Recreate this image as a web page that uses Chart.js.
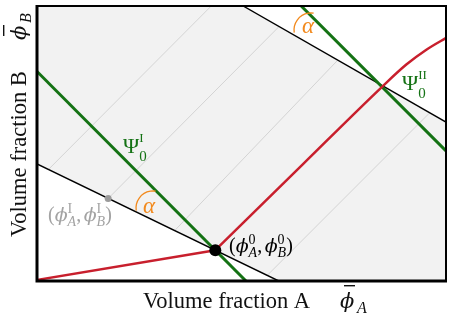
<!DOCTYPE html>
<html>
<head>
<meta charset="utf-8">
<script src="https://cdn.jsdelivr.net/npm/chart.js@4.4.0/dist/chart.umd.min.js"></script>
<style>
  html, body { margin: 0; padding: 0; background: #fff; }
  #wrap { width: 452px; height: 325px; position: relative; }
</style>
</head>
<body>
<div id="wrap"><canvas id="phaseChart"></canvas></div>
<script>
// all values are fractions of the axis range (0..1 on both axes)
const shadeX = [0, 0.504, 1, 1, 0.591, 0, 0];
const shadeY = [1, 1, 0.578, 0, 0, 0.426, 1];

// black tie lines through the two end points
const tieIX = [0, 0.591];
const tieIY = [0.426, 0];
const tieIIX = [0.504, 1];
const tieIIY = [1, 0.578];

// thin grey tie lines inside the shaded region
const guideX = [[0.027, 0.426], [0.174, 0.591], [0.337, 0.734], [0.564, 0.959]];
const guideY = [[0.404, 1], [0.300, 0.924], [0.184, 0.801], [0.022, 0.610]];

// green lines Psi_0^I and Psi_0^II
const psiIX = [0, 0.511];
const psiIY = [0.762, 0];
const psiIIX = [0.646, 1];
const psiIIY = [1, 0.473];

// red path
const pathLowX = [0, 0.436];
const pathLowY = [0.004, 0.112];
const pathHighX = [0.436, 0.651, 0.845, 0.903, 0.952, 1.005];
const pathHighY = [0.112, 0.426, 0.708, 0.787, 0.841, 0.888];

const startPoint = [0.436, 0.112];
const phaseIPoint = [0.174, 0.300];

const pts = (xs, ys) => xs.map((x, i) => ({ x: x, y: ys[i] }));

const GREEN = '#147214';
const RED = '#c81f2d';
const ORANGE = '#f28a1e';
const PHI = '\u03D5';
const SERIF = "'Liberation Serif', 'DejaVu Serif', serif";
const f = (size, style) => (style || '') + ' ' + size + 'px ' + SERIF;
const fphi = (size) => 'italic ' + size + "px 'DejaVu Serif'";

function line(data, color, width) {
    return {
        data: data,
        showLine: true,
        borderColor: color,
        borderWidth: width,
        pointRadius: 0,
        fill: false
    };
}

const datasets = [
    {
        data: [{ x: startPoint[0], y: startPoint[1] }],
        pointRadius: 6,
        backgroundColor: '#000',
        borderWidth: 0
    },
    {
        data: [{ x: phaseIPoint[0], y: phaseIPoint[1] }],
        pointRadius: 3.5,
        backgroundColor: '#9a9a9a',
        borderWidth: 0
    },
    line(pts(pathLowX, pathLowY), RED, 2.5),
    Object.assign(line(pts(pathHighX, pathHighY), RED, 2.5), { cubicInterpolationMode: 'monotone' }),
    line(pts(psiIX, psiIY), GREEN, 3),
    line(pts(psiIIX, psiIIY), GREEN, 3),
    line(pts(tieIX, tieIY), '#000', 1.4),
    line(pts(tieIIX, tieIIY), '#000', 1.4)
];
guideX.forEach((gx, i) => datasets.push(line(pts(gx, guideY[i]), '#d4d4d4', 1)));
datasets.push({
    data: pts(shadeX, shadeY),
    showLine: true,
    borderWidth: 0,
    borderColor: 'rgba(0,0,0,0)',
    backgroundColor: '#f2f2f2',
    pointRadius: 0,
    fill: 'shape'
});

// draws a run of text pieces; an array of pieces is stacked (sup/sub)
function drawRun(ctx, x, y, items) {
    items.forEach(it => {
        const group = Array.isArray(it[0]) ? it : [it];
        let w = 0;
        group.forEach(([txt, font, dy]) => {
            ctx.font = font;
            ctx.fillText(txt, x, y + (dy || 0));
            w = Math.max(w, ctx.measureText(txt).width);
        });
        x += w;
    });
    return x;
}

function pointLabel(letter, size) {
    const s = size * 0.7;
    return [
        ['(', f(size)],
        [PHI, fphi(size * 0.95)],
        [[letter, f(s), -8], ['A', f(s, 'italic'), 5]],
        [',', f(size)], [' ', f(size * 0.5)],
        [PHI, fphi(size * 0.95)],
        [[letter, f(s), -8], ['B', f(s, 'italic'), 5]],
        [')', f(size)]
    ];
}

const decorations = {
    id: 'decorations',
    afterDatasetsDraw(chart) {
        const ctx = chart.ctx;
        const a = chart.chartArea;
        ctx.save();

        // frame
        ctx.strokeStyle = '#000';
        ctx.lineWidth = 2;
        ctx.beginPath();
        ctx.moveTo(a.left, a.top);
        ctx.lineTo(a.right, a.top);
        ctx.lineTo(a.right, a.bottom);
        ctx.stroke();
        ctx.lineWidth = 3;
        ctx.beginPath();
        ctx.moveTo(a.left, a.top - 1);
        ctx.lineTo(a.left, a.bottom);
        ctx.lineTo(a.right + 1, a.bottom);
        ctx.stroke();

        ctx.textAlign = 'left';
        ctx.textBaseline = 'alphabetic';

        // angle marks
        ctx.strokeStyle = ORANGE;
        ctx.lineWidth = 1.3;
        [[311, 30], [153, 208]].forEach(([cx, cy]) => {
            ctx.beginPath();
            ctx.arc(cx, cy, 17, 0.95 * Math.PI, 1.55 * Math.PI);
            ctx.stroke();
        });
        ctx.fillStyle = ORANGE;
        ctx.font = f(23, 'italic');
        ctx.fillText('\u03B1', 302, 33);
        ctx.fillText('\u03B1', 143, 213);

        // Psi labels
        ctx.fillStyle = GREEN;
        drawRun(ctx, 123, 153, [['\u03A8', f(22)], [['I', f(13), -11], ['0', f(15), 8]]]);
        drawRun(ctx, 402, 90, [['\u03A8', f(22)], [['II', f(13), -11], ['0', f(15), 8]]]);

        // point labels
        ctx.fillStyle = '#000';
        drawRun(ctx, 229, 252, pointLabel('0', 20));
        ctx.fillStyle = '#a3a3a3';
        drawRun(ctx, 48, 221, pointLabel('I', 20));

        // axis titles
        ctx.fillStyle = '#111';
        const title = (letter) => {
            ctx.font = f(22.5);
            ctx.fillText('Volume fraction ' + letter, 0, 0);
            ctx.font = fphi(21);
            ctx.fillText(PHI, 197, 0);
            ctx.fillRect(201, -23, 11, 1.4);
            ctx.font = f(16, 'italic');
            ctx.fillText(letter, 214, 5);
        };
        ctx.save();
        ctx.translate(143, 308);
        title('A');
        ctx.restore();
        ctx.save();
        ctx.translate(26, 237);
        ctx.rotate(-Math.PI / 2);
        title('B');
        ctx.restore();

        ctx.restore();
    }
};

new Chart(document.getElementById('phaseChart'), {
    type: 'scatter',
    data: { datasets: datasets },
    options: {
        responsive: true,
        maintainAspectRatio: false,
        animation: false,
        layout: { padding: { left: 37, top: 4, right: 2, bottom: 44 } },
        plugins: {
            legend: { display: false },
            tooltip: { enabled: false }
        },
        scales: {
            x: { type: 'linear', min: 0, max: 1, display: false },
            y: { type: 'linear', min: 0, max: 1, display: false }
        }
    },
    plugins: [decorations]
});
</script>
</body>
</html>
